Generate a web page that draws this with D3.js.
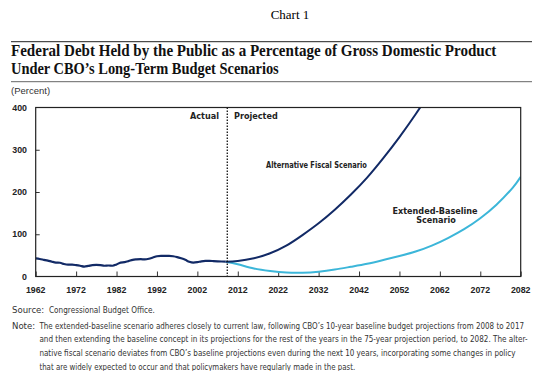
<html>
<head>
<meta charset="utf-8">
<title>Federal Debt Held by the Public</title>
<script src="https://d3js.org/d3.v7.min.js"></script>
<style>
body { margin: 0; background: #fff; }
.tick-lbl { font-family: "Liberation Sans", Arial, sans-serif; font-weight: bold; font-size: 8.8px; fill: #222; }
.lbl { font-family: "DejaVu Sans Condensed", "Liberation Sans", sans-serif; font-weight: bold; font-size: 9px; fill: #222; }
.note { font-family: "DejaVu Sans Condensed", "Liberation Sans", sans-serif; font-size: 9.5px; fill: #333; }
</style>
</head>
<body>
<svg width=553 height=371></svg>
<script>
// historical debt held by the public, % of GDP
var histYears = [1962,1963,1964,1965,1966,1967,1968,1969,1970,1971,1972,1973,1974,1975,1976,1977,1978,1979,1980,1981,
                 1982,1983,1984,1985,1986,1987,1988,1989,1990,1991,1992,1993,1994,1995,1996,1997,1998,1999,2000,2001,
                 2002,2003,2004,2005,2006,2007,2008,2009];
var histValues = [43,41.5,39.5,37.5,35,33,32.5,29.5,28,28,27,25.5,23.5,25,27,27.5,27,25.5,26,25.5,
                  28.5,33,34,36.5,39.5,40.5,41,40.5,42,45,48,49,49,49,48,46,43,39.5,35,33,
                  34,36,37,37,36.5,36,35.5,35];

// alternative fiscal scenario
var altYears = [2009,2012,2016,2020,2024,2028,2032,2036,2040,2044,2048,2052,2056,2060];
var altValues = [35,36.6,43,55,73,98,126,158,194,234,280,330,384,442];

// extended-baseline scenario
var extYears = [2009,2012,2016,2020,2024,2028,2032,2036,2040,2044,2048,2052,2056,2060,2064,2068,2072,2076,2080,2082];
var extValues = [35,29,19,13,9.5,9,11.5,16.5,23,30,39,48.5,59,73,91,112,138,170,210,236];

var xTicks = [1962,1972,1982,1992,2002,2012,2022,2032,2042,2052,2062,2072,2082];
var yTicks = [0,100,200,300,400];
var divider = 2009.4;

var noteLines = [
  "The extended-baseline scenario adheres closely to current law, following CBO\u2019s 10-year baseline budget projections from 2008 to 2017",
  "and then extending the baseline concept in its projections for the rest of the years in the 75-year projection period, to 2082. The alter-",
  "native fiscal scenario deviates from CBO\u2019s baseline projections even during the next 10 years, incorporating some changes in policy",
  "that are widely expected to occur and that policymakers have regularly made in the past."
];
var noteWidths = [485, 489, 477, 316];

var svg = d3.select("svg");

var x = d3.scaleLinear().domain([1962, 2082]).range([35.7, 520.7]);
var y = d3.scaleLinear().domain([0, 400]).range([276.5, 107.5]);

// squeeze a text horizontally to a given width
function fitWidth(sel, x0, y0, w) {
  var n = sel.node().getComputedTextLength();
  sel.attr("x", 0).attr("y", 0)
    .attr("transform", "translate(" + x0 + "," + y0 + ") scale(" + (w / n) + ",1)");
}

// header
svg.append("text")
  .attr("x", 290).attr("y", 19)
  .attr("text-anchor", "middle")
  .style("font-family", "'Liberation Serif', 'Times New Roman', serif")
  .style("font-size", "13px")
  .text("Chart 1");

svg.append("line").attr("x1", 11).attr("x2", 532).attr("y1", 41.7).attr("y2", 41.7)
  .attr("stroke", "#222").attr("stroke-width", 1);
svg.append("line").attr("x1", 11).attr("x2", 532).attr("y1", 81.7).attr("y2", 81.7)
  .attr("stroke", "#666").attr("stroke-width", 1);

svg.append("text")
  .style("font-family", "'Liberation Serif', 'Times New Roman', serif")
  .style("font-weight", "bold").style("font-size", "16px").style("fill", "#111")
  .text("Federal Debt Held by the Public as a Percentage of Gross Domestic Product")
  .call(fitWidth, 11, 56, 486);
svg.append("text")
  .style("font-family", "'Liberation Serif', 'Times New Roman', serif")
  .style("font-weight", "bold").style("font-size", "16px").style("fill", "#111")
  .text("Under CBO\u2019s Long-Term Budget Scenarios")
  .call(fitWidth, 11, 73.5, 268);

svg.append("text")
  .attr("x", 11).attr("y", 94)
  .style("font-family", "'Liberation Sans', Arial, sans-serif")
  .style("font-size", "9.5px").style("fill", "#333")
  .text("(Percent)");

// axes: ticks point inward
svg.append("g")
  .attr("transform", "translate(0,276.5)")
  .call(d3.axisTop(x).tickValues(xTicks).tickSize(5).tickFormat(""))
  .call(function(g) { g.select(".domain").remove(); g.selectAll("line").attr("stroke", "#333"); });

svg.append("g")
  .attr("transform", "translate(35.7,0)")
  .call(d3.axisRight(y).tickValues([100, 200, 300]).tickSize(4).tickFormat(""))
  .call(function(g) { g.select(".domain").remove(); g.selectAll("line").attr("stroke", "#333"); });

svg.append("g").selectAll("text")
  .data(xTicks).enter().append("text")
  .attr("class", "tick-lbl")
  .attr("x", function(d) { return x(d); })
  .attr("y", 293)
  .attr("text-anchor", "middle")
  .text(function(d) { return d; });

svg.append("g").selectAll("text")
  .data(yTicks).enter().append("text")
  .attr("class", "tick-lbl")
  .attr("x", 27)
  .attr("y", function(d) { return y(d) + 3; })
  .attr("text-anchor", "end")
  .text(function(d) { return d; });

// clip for the plot area
svg.append("clipPath").attr("id", "plot")
  .append("rect")
  .attr("x", x(1962)).attr("y", y(400))
  .attr("width", x(2082) - x(1962)).attr("height", y(0) - y(400));

var line = d3.line()
  .x(function(d) { return x(d[0]); })
  .y(function(d) { return y(d[1]); })
  .curve(d3.curveNatural);

var histLine = d3.line()
  .x(function(d) { return x(d[0]); })
  .y(function(d) { return y(d[1]); })
  .curve(d3.curveMonotoneX);

var lines = svg.append("g").attr("clip-path", "url(#plot)");

lines.append("path")
  .datum(d3.zip(extYears, extValues))
  .attr("d", line)
  .attr("fill", "none").attr("stroke", "#3cb6d9").attr("stroke-width", 2);

lines.append("path")
  .datum(d3.zip(altYears, altValues))
  .attr("d", line)
  .attr("fill", "none").attr("stroke", "#122a66").attr("stroke-width", 2);

lines.append("path")
  .datum(d3.zip(histYears, histValues))
  .attr("d", histLine)
  .attr("fill", "none").attr("stroke", "#122a66").attr("stroke-width", 2.2);

// actual/projected divider
svg.append("line")
  .attr("x1", x(divider)).attr("x2", x(divider))
  .attr("y1", y(400)).attr("y2", y(0))
  .attr("stroke", "#111").attr("stroke-width", 1.3)
  .attr("stroke-dasharray", "1.5,1.5");

// plot frame
svg.append("rect")
  .attr("x", x(1962)).attr("y", y(400))
  .attr("width", x(2082) - x(1962)).attr("height", y(0) - y(400))
  .attr("fill", "none").attr("stroke", "#222").attr("stroke-width", 1.2);

// labels
svg.append("text").attr("class", "lbl")
  .attr("x", 219).attr("y", 119).attr("text-anchor", "end").text("Actual");
svg.append("text").attr("class", "lbl")
  .attr("x", 234).attr("y", 119).text("Projected");
svg.append("text").attr("class", "lbl")
  .text("Alternative Fiscal Scenario")
  .call(fitWidth, 266, 168, 101);
svg.append("text").attr("class", "lbl")
  .attr("x", 435).attr("y", 214).attr("text-anchor", "middle").text("Extended-Baseline");
svg.append("text").attr("class", "lbl")
  .attr("x", 436).attr("y", 222.5).attr("text-anchor", "middle").text("Scenario");

// source and note
svg.append("text").attr("class", "note")
  .attr("x", 12).attr("y", 313).text("Source:");
svg.append("text").attr("class", "note")
  .text("Congressional Budget Office.")
  .call(fitWidth, 49, 313, 106);
svg.append("text").attr("class", "note")
  .attr("x", 12).attr("y", 328.5).text("Note:");

svg.append("g").selectAll("text")
  .data(noteLines).enter().append("text")
  .attr("class", "note")
  .text(function(d) { return d; })
  .each(function(d, i) { d3.select(this).call(fitWidth, 39.4, 328.5 + i * 13.8, noteWidths[i]); });
</script>
</body>
</html>
